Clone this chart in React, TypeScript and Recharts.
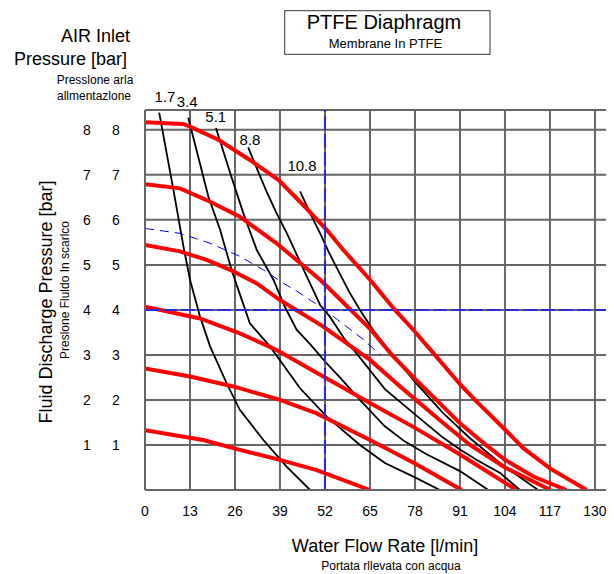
import React from 'react';
import { LineChart, Line, XAxis, YAxis, CartesianGrid, ReferenceLine } from 'recharts';

const FONT = '"Liberation Sans", Arial, Helvetica, sans-serif';

// Axes
const xTicks = [0, 13, 26, 39, 52, 65, 78, 91, 104, 117, 130];
const yTicks = [0, 1, 2, 3, 4, 5, 6, 7, 8];

// Red curves: air inlet pressure (bar)
const redAX = [0, 11, 13, 21.2, 30.3, 38.5, 45.7, 52.5, 57.3, 65, 72.2, 77.5, 83.3, 91, 95.3, 102.6, 109.3, 117, 127.6];
const redAY = [8.17, 8.13, 8.07, 7.78, 7.33, 6.89, 6.33, 5.78, 5.33, 4.67, 4.0, 3.56, 3.04, 2.35, 2.0, 1.45, 0.93, 0.48, 0];

const redBX = [0, 10.1, 17.8, 27.4, 38, 50.6, 65, 71.3, 78, 83.8, 91, 98.7, 104, 112.2, 121.8];
const redBY = [6.79, 6.7, 6.44, 6.07, 5.48, 4.67, 3.58, 3.0, 2.47, 2.03, 1.48, 0.99, 0.67, 0.3, 0];

const redCX = [0, 10.1, 17.8, 24.6, 32.3, 39, 51.5, 65, 73.7, 85.2, 93.9, 104, 117.2];
const redCY = [5.44, 5.3, 5.11, 4.89, 4.59, 4.22, 3.63, 2.89, 2.3, 1.55, 1.0, 0.5, 0];

const redDX = [0, 15.9, 27.4, 38, 51.5, 65, 78, 91, 107.4];
const redDY = [4.07, 3.81, 3.48, 3.11, 2.52, 1.93, 1.38, 0.79, 0];

const redEX = [0, 13, 25.5, 39, 49.6, 65, 78, 91.5];
const redEY = [2.7, 2.52, 2.3, 2.0, 1.7, 1.11, 0.59, 0];

const redFX = [0, 16.8, 27.4, 39, 49.6, 65];
const redFY = [1.33, 1.11, 0.89, 0.67, 0.44, 0];

// Black curves: air consumption
const blk17X = [4.1, 8.2, 11.1, 13, 15.9, 18.8, 23.6, 27.4, 34.2, 40.9, 47.7];
const blk17Y = [8.38, 6.67, 5.41, 4.67, 3.85, 3.19, 2.37, 1.78, 1.11, 0.52, 0];

const blk34X = [12.5, 18.3, 21.7, 25, 26.5, 30.3, 36.1, 44.8, 52.5, 62.1, 69.3, 78, 85.2];
const blk34Y = [8.27, 6.52, 5.78, 4.89, 4.55, 3.7, 3.19, 2.26, 1.63, 1.0, 0.6, 0.28, 0];

const blk51X = [20.5, 24.6, 28.4, 32.3, 37.1, 40.4, 43.8, 47.7, 52.5, 56.3, 62.1, 69.2, 75, 81.2, 91, 99.2];
const blk51Y = [8.04, 7.04, 6.15, 5.33, 4.67, 4.07, 3.56, 3.24, 2.81, 2.5, 2.0, 1.42, 1.08, 0.8, 0.42, 0];

const blk88X = [29.8, 32, 35, 38, 41, 44, 47, 50.6, 53.4, 57.5, 62.1, 69.3, 78, 86, 91, 96, 102.6, 108.3];
const blk88Y = [7.61, 7.2, 6.65, 6.15, 5.7, 5.2, 4.7, 4.11, 3.85, 3.37, 2.94, 2.24, 1.68, 1.17, 0.9, 0.66, 0.38, 0];

const blk108X = [44.8, 48, 50.6, 53, 56.3, 59, 62.1, 66, 70, 78, 86, 93.9, 103.5, 113.6];
const blk108Y = [6.63, 6.1, 5.7, 5.3, 4.8, 4.4, 4.0, 3.54, 3.15, 2.4, 1.72, 1.15, 0.54, 0];

// Blue dashed interpolated curve
const blueX = [0, 10.1, 18.8, 27.4, 34.2, 40, 43.8, 52, 57, 63, 68];
const blueY = [5.81, 5.7, 5.48, 5.19, 4.89, 4.59, 4.42, 4.0, 3.7, 3.35, 3.0];

// Example operating point
const exampleFlow = 52;
const examplePressure = 4;

// Labels
const consumptionLabels = ['1.7', '3.4', '5.1', '8.8', '10.8'];

const pts = (xs: number[], ys: number[]) => xs.map((x, i) => ({ x, y: ys[i] }));

const redSeries = [
  pts(redAX, redAY),
  pts(redBX, redBY),
  pts(redCX, redCY),
  pts(redDX, redDY),
  pts(redEX, redEY),
  pts(redFX, redFY),
];
const blackSeries = [
  pts(blk17X, blk17Y),
  pts(blk34X, blk34Y),
  pts(blk51X, blk51Y),
  pts(blk88X, blk88Y),
  pts(blk108X, blk108Y),
];
const blueSeries = pts(blueX, blueY);

const XTick = (props: any) => {
  const { x, payload } = props;
  return (
    <text x={x} y={508} textAnchor="middle" fontSize={14} fontFamily={FONT} fill="#000">
      {payload.value}
    </text>
  );
};

const YTick = (props: any) => {
  const { y, payload } = props;
  if (payload.value === 0) return <g />;
  return (
    <g>
      <text x={79} y={y + 5} textAnchor="middle" fontSize={14} fontFamily={FONT} fill="#000">
        {payload.value}
      </text>
      <text x={108} y={y + 5} textAnchor="middle" fontSize={14} fontFamily={FONT} fill="#000">
        {payload.value}
      </text>
    </g>
  );
};

const labelPos = [
  [157, 93.5],
  [179.2, 98.5],
  [207.8, 113.5],
  [242, 137],
  [294, 162.5],
];

export default function App() {
  return (
    <div style={{ position: 'relative', width: 606, height: 566, fontFamily: FONT }}>
      <LineChart width={606} height={566} margin={{ top: 102, right: 0, bottom: 54, left: 0 }}>
        <CartesianGrid stroke="#666" strokeWidth={2} />
        <XAxis
          dataKey="x"
          type="number"
          domain={[0, 135.5]}
          ticks={xTicks}
          allowDataOverflow
          height={30}
          tickLine={false}
          axisLine={{ stroke: '#666', strokeWidth: 2 }}
          tick={<XTick />}
        />
        <YAxis
          type="number"
          domain={[0, 8.44]}
          ticks={yTicks}
          allowDataOverflow
          width={137}
          tickLine={false}
          axisLine={{ stroke: '#666', strokeWidth: 2 }}
          tick={<YTick />}
        />
        {blackSeries.map((d, i) => (
          <Line
            key={'b' + i}
            data={d}
            dataKey="y"
            type="linear"
            dot={false}
            stroke="#000"
            strokeWidth={1.8}
            isAnimationActive={false}
          />
        ))}
        <Line
          data={blueSeries}
          dataKey="y"
          type="linear"
          dot={false}
          stroke="#0000ff"
          strokeWidth={1}
          strokeDasharray="9 6"
          isAnimationActive={false}
        />
        {redSeries.map((d, i) => (
          <Line
            key={'r' + i}
            data={d}
            dataKey="y"
            type="linear"
            dot={false}
            stroke="#ff0000"
            strokeWidth={4}
            isAnimationActive={false}
          />
        ))}
        <ReferenceLine x={exampleFlow} stroke="#2a2ad6" strokeWidth={2} strokeDasharray="14 4" />
        <ReferenceLine y={examplePressure} stroke="#2a2ad6" strokeWidth={2} strokeDasharray="14 4" />
      </LineChart>
      <svg
        width={606}
        height={566}
        style={{ position: 'absolute', left: 0, top: 0, pointerEvents: 'none' }}
        fontFamily={FONT}
      >
        <rect x={276.7} y={2.7} width={205.3} height={43.6} fill="#fff" stroke="#333" strokeWidth={1} />
        <text x={376} y={20.5} textAnchor="middle" fontSize={20}>PTFE Diaphragm</text>
        <text x={377.5} y={40} textAnchor="middle" fontSize={13}>Membrane In PTFE</text>

        <text x={122} y={34} textAnchor="end" fontSize={18}>AIR Inlet</text>
        <text x={119} y={57} textAnchor="end" fontSize={18}>Pressure [bar]</text>
        <text x={87} y={76} textAnchor="middle" fontSize={12}>Presslone arla</text>
        <text x={86} y={92} textAnchor="middle" fontSize={12}>allmentazlone</text>

        <text x={377} y={544} textAnchor="middle" fontSize={18}>Water Flow Rate [l/min]</text>
        <text x={383} y={562} textAnchor="middle" fontSize={12}>Portata rllevata con acqua</text>

        <text x={44} y={294} textAnchor="middle" fontSize={18} transform="rotate(-90 44 294)">
          Fluid Discharge Pressure [bar]
        </text>
        <text x={61} y={282} textAnchor="middle" fontSize={12} transform="rotate(-90 61 282)">
          Preslone Fluldo In scarlco
        </text>

        {consumptionLabels.map((t, i) => (
          <text key={t} x={labelPos[i][0]} y={labelPos[i][1]} textAnchor="middle" fontSize={15}>
            {t}
          </text>
        ))}
      </svg>
    </div>
  );
}
